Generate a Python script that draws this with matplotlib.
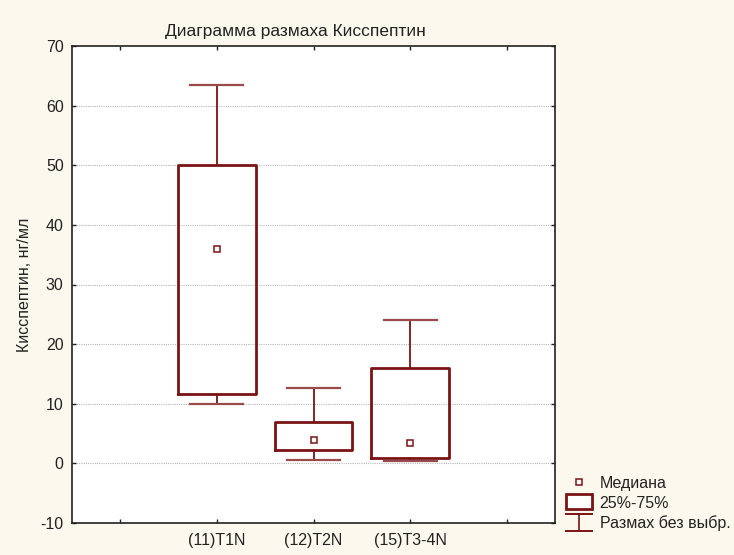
import matplotlib
matplotlib.use("Agg")
import matplotlib.pyplot as plt
from matplotlib.lines import Line2D
from matplotlib.patches import Rectangle
from matplotlib.legend_handler import HandlerBase

plt.rcParams['font.family'] = ['Liberation Sans', 'DejaVu Sans']
plt.rcParams['axes.unicode_minus'] = False

categories = ["(11)T1N", "(12)T2N", "(15)T3-4N"]
medians = [36.0, 3.9, 3.5]
q1 = [11.6, 2.2, 0.9]
q3 = [50.0, 6.9, 16.0]
whisk_lo = [10.0, 0.6, 0.4]
whisk_hi = [63.5, 12.6, 24.0]

dark = "#7a1414"
cap_col = "#9a4a4a"
bg = "#fcf8ee"
txt = "#222222"
FS = 11.5

fig = plt.figure(figsize=(7.34, 5.55), dpi=100, facecolor=bg)
ax = fig.add_axes([72/734, 1-523/555, (555-72)/734, (523-46)/555])
ax.set_facecolor("white")

bxp_stats = []
for i, c in enumerate(categories):
    bxp_stats.append(dict(med=medians[i], q1=q1[i], q3=q3[i],
                          whislo=whisk_lo[i], whishi=whisk_hi[i],
                          fliers=[], label=c))
positions = [1, 2, 3]
ax.bxp(bxp_stats, positions=positions, widths=0.8, showcaps=True,
       boxprops=dict(color=dark, linewidth=2.0),
       whiskerprops=dict(color=dark, linewidth=1.3),
       capprops=dict(color=cap_col, linewidth=1.6),
       medianprops=dict(linewidth=0), capwidths=0.55, manage_ticks=False,
       zorder=3)
ax.plot(positions, medians, linestyle="none", marker="s", markersize=5,
        markerfacecolor="white", markeredgecolor=dark, markeredgewidth=1.1, zorder=4)

ax.set_xlim(-0.5, 4.5)
ax.set_ylim(-10, 70)
ax.set_xticks([0, 1, 2, 3, 4])
ax.set_xticklabels(["", *categories, ""])
ax.set_yticks(range(-10, 71, 10))
ax.tick_params(direction="in", length=3, width=1, top=True, right=True,
               labelsize=FS, colors=txt)
ax.tick_params(axis="x", pad=7)
ax.tick_params(axis="y", pad=6)
for yv in range(0, 61, 10):
    ax.axhline(yv, color="#b8b8c0", linestyle=(0, (1, 1)), linewidth=0.8, zorder=1)
for s in ax.spines.values():
    s.set_color(txt)
    s.set_linewidth(1.2)

ax.set_title("Диаграмма размаха Кисспептин", fontsize=12.5, pad=7, color=txt,
             x=(295.5 - 72) / 483)
ax.set_ylabel("Кисспептин, нг/мл", fontsize=FS, color=txt, labelpad=6)


class BoxHandler(HandlerBase):
    def create_artists(self, legend, orig_handle, xd, yd, w, h, fontsize, trans):
        r = Rectangle((xd, yd - 1), w, h + 2, facecolor="white", edgecolor=dark,
                      linewidth=2.0, transform=trans)
        return [r]


class WhiskHandler(HandlerBase):
    def create_artists(self, legend, orig_handle, xd, yd, w, h, fontsize, trans):
        top = yd + h + 1
        bot = yd - 2
        l1 = Line2D([xd, xd + w], [top, top], color=dark, linewidth=1.4, transform=trans)
        l2 = Line2D([xd, xd + w], [bot, bot], color=dark, linewidth=1.4, transform=trans)
        l3 = Line2D([xd + w / 2, xd + w / 2], [bot, top], color=dark, linewidth=1.2, transform=trans)
        return [l1, l2, l3]


h_med = Line2D([], [], linestyle="none", marker="s", markersize=5,
               markerfacecolor="white", markeredgecolor=dark, markeredgewidth=1.1)


class _B: pass
class _W: pass

hb, hw = _B(), _W()
leg = fig.legend([h_med, hb, hw], ["Медиана", "25%-75%", "Размах без выбр."],
                 handler_map={_B: BoxHandler(), _W: WhiskHandler()},
                 loc="upper left", bbox_to_anchor=(566/734, 1-476/555),
                 frameon=False, fontsize=FS, handlelength=1.6, handletextpad=0.5,
                 labelspacing=0.3, borderpad=0, borderaxespad=0, handleheight=0.8)
for t in leg.get_texts():
    t.set_color(txt)

fig.savefig("out.png", dpi=100, facecolor=bg)
